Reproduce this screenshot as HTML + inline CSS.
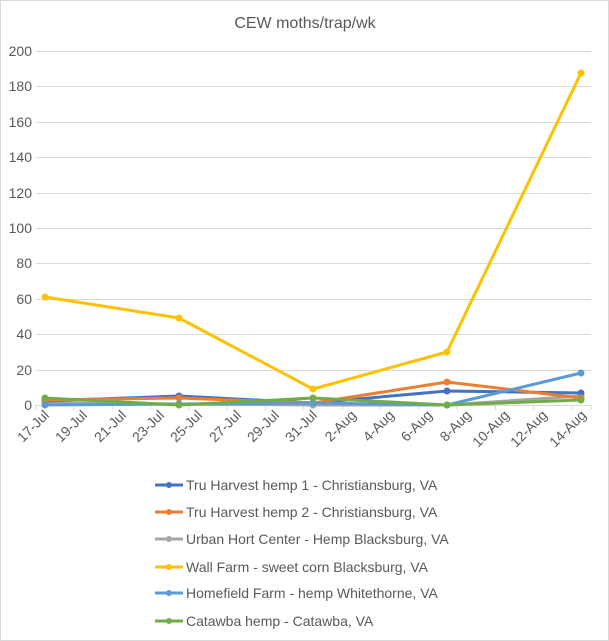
<!DOCTYPE html>
<html><head><style>
body{margin:0;background:#fff}
svg{display:block;font-family:"Liberation Sans",Calibri,sans-serif}
</style></head><body>
<svg width="609" height="641" viewBox="0 0 609 641">
<rect x="0.5" y="0.5" width="608" height="640" fill="#fff" stroke="#d9d9d9"/>
<text x="305" y="28" text-anchor="middle" font-size="16" fill="#595959">CEW moths/trap/wk</text>
<g stroke="#d9d9d9" stroke-width="1">
<line x1="36" x2="591" y1="51.5" y2="51.5"/><line x1="36" x2="591" y1="86.5" y2="86.5"/>
<line x1="36" x2="591" y1="122.5" y2="122.5"/><line x1="36" x2="591" y1="157.5" y2="157.5"/>
<line x1="36" x2="591" y1="193.5" y2="193.5"/><line x1="36" x2="591" y1="228.5" y2="228.5"/>
<line x1="36" x2="591" y1="263.5" y2="263.5"/><line x1="36" x2="591" y1="299.5" y2="299.5"/>
<line x1="36" x2="591" y1="334.5" y2="334.5"/><line x1="36" x2="591" y1="370.5" y2="370.5"/>
<line x1="36" x2="591" y1="405.5" y2="405.5"/>
</g>
<g font-size="14" fill="#595959" text-anchor="end">
<text x="32" y="56">200</text><text x="32" y="91">180</text><text x="32" y="127">160</text>
<text x="32" y="162">140</text><text x="32" y="198">120</text><text x="32" y="233">100</text>
<text x="32" y="268">80</text><text x="32" y="304">60</text><text x="32" y="339">40</text>
<text x="32" y="375">20</text><text x="32" y="410">0</text>
</g>
<g stroke="#d9d9d9">
<line x1="35.5" x2="35.5" y1="405" y2="410"/><line x1="73.8" x2="73.8" y1="405" y2="410"/>
<line x1="112.2" x2="112.2" y1="405" y2="410"/><line x1="150.5" x2="150.5" y1="405" y2="410"/>
<line x1="188.8" x2="188.8" y1="405" y2="410"/><line x1="227.2" x2="227.2" y1="405" y2="410"/>
<line x1="265.5" x2="265.5" y1="405" y2="410"/><line x1="303.8" x2="303.8" y1="405" y2="410"/>
<line x1="342.2" x2="342.2" y1="405" y2="410"/><line x1="380.5" x2="380.5" y1="405" y2="410"/>
<line x1="418.8" x2="418.8" y1="405" y2="410"/><line x1="457.2" x2="457.2" y1="405" y2="410"/>
<line x1="495.5" x2="495.5" y1="405" y2="410"/><line x1="533.8" x2="533.8" y1="405" y2="410"/>
<line x1="572.2" x2="572.2" y1="405" y2="410"/><line x1="591" x2="591" y1="405" y2="410"/>
</g>
<g font-size="14" fill="#595959" text-anchor="end">
<text transform="translate(50,416) rotate(-45)">17-Jul</text>
<text transform="translate(88,416) rotate(-45)">19-Jul</text>
<text transform="translate(127,416) rotate(-45)">21-Jul</text>
<text transform="translate(165,416) rotate(-45)">23-Jul</text>
<text transform="translate(203,416) rotate(-45)">25-Jul</text>
<text transform="translate(242,416) rotate(-45)">27-Jul</text>
<text transform="translate(280,416) rotate(-45)">29-Jul</text>
<text transform="translate(318,416) rotate(-45)">31-Jul</text>
<text transform="translate(357,416) rotate(-45)">2-Aug</text>
<text transform="translate(395,416) rotate(-45)">4-Aug</text>
<text transform="translate(433,416) rotate(-45)">6-Aug</text>
<text transform="translate(472,416) rotate(-45)">8-Aug</text>
<text transform="translate(510,416) rotate(-45)">10-Aug</text>
<text transform="translate(548,416) rotate(-45)">12-Aug</text>
<text transform="translate(587,416) rotate(-45)">14-Aug</text>
</g>
<g fill="none" stroke-width="3" stroke-linejoin="round">
<polyline stroke="#a5a5a5" points="45,403 179,404 313,405 447,405 581,396"/>
<polyline stroke="#4472c4" points="45,401 179,396 313,403 447,391 581,393"/>
<polyline stroke="#ed7d31" points="45,400 179,398 313,403 447,382 581,398"/>
<polyline stroke="#5b9bd5" points="45,405 179,404 313,403 447,405 581,373"/>
<polyline stroke="#70ad47" points="45,398 179,405 313,398 447,405 581,400"/>
<polyline stroke="#ffc000" points="45,297 179,318 313,389 447,352 581,73"/>
</g>
<g>
<g fill="#a5a5a5"><circle cx="45" cy="403" r="3.5"/><circle cx="179" cy="404" r="3.5"/><circle cx="313" cy="405" r="3.5"/><circle cx="447" cy="405" r="3.5"/><circle cx="581" cy="396" r="3.5"/></g>
<g fill="#4472c4"><circle cx="45" cy="401" r="3.5"/><circle cx="179" cy="396" r="3.5"/><circle cx="313" cy="403" r="3.5"/><circle cx="447" cy="391" r="3.5"/><circle cx="581" cy="393" r="3.5"/></g>
<g fill="#ed7d31"><circle cx="45" cy="400" r="3.5"/><circle cx="179" cy="398" r="3.5"/><circle cx="313" cy="403" r="3.5"/><circle cx="447" cy="382" r="3.5"/><circle cx="581" cy="398" r="3.5"/></g>
<g fill="#5b9bd5"><circle cx="45" cy="405" r="3.5"/><circle cx="179" cy="404" r="3.5"/><circle cx="313" cy="403" r="3.5"/><circle cx="447" cy="405" r="3.5"/><circle cx="581" cy="373" r="3.5"/></g>
<g fill="#70ad47"><circle cx="45" cy="398" r="3.5"/><circle cx="179" cy="405" r="3.5"/><circle cx="313" cy="398" r="3.5"/><circle cx="447" cy="405" r="3.5"/><circle cx="581" cy="400" r="3.5"/></g>
<g fill="#ffc000"><circle cx="45" cy="297" r="3.5"/><circle cx="179" cy="318" r="3.5"/><circle cx="313" cy="389" r="3.5"/><circle cx="447" cy="352" r="3.5"/><circle cx="581" cy="73" r="3.5"/></g>
</g>
<g font-size="14" fill="#595959" stroke-width="3">
<line x1="155" x2="183" y1="485" y2="485" stroke="#4472c4"/><circle cx="169" cy="485" r="3" fill="#4472c4"/><text x="186" y="490">Tru Harvest hemp 1 - Christiansburg, VA</text>
<line x1="155" x2="183" y1="512" y2="512" stroke="#ed7d31"/><circle cx="169" cy="512" r="3" fill="#ed7d31"/><text x="186" y="517">Tru Harvest hemp 2 - Christiansburg, VA</text>
<line x1="155" x2="183" y1="539" y2="539" stroke="#a5a5a5"/><circle cx="169" cy="539" r="3" fill="#a5a5a5"/><text x="186" y="544">Urban Hort Center - Hemp Blacksburg, VA</text>
<line x1="155" x2="183" y1="567" y2="567" stroke="#ffc000"/><circle cx="169" cy="567" r="3" fill="#ffc000"/><text x="186" y="572">Wall Farm - sweet corn Blacksburg, VA</text>
<line x1="155" x2="183" y1="593" y2="593" stroke="#5b9bd5"/><circle cx="169" cy="593" r="3" fill="#5b9bd5"/><text x="186" y="598">Homefield Farm - hemp Whitethorne, VA</text>
<line x1="155" x2="183" y1="621" y2="621" stroke="#70ad47"/><circle cx="169" cy="621" r="3" fill="#70ad47"/><text x="186" y="626">Catawba hemp - Catawba, VA</text>
</g>
</svg>
</body></html>
